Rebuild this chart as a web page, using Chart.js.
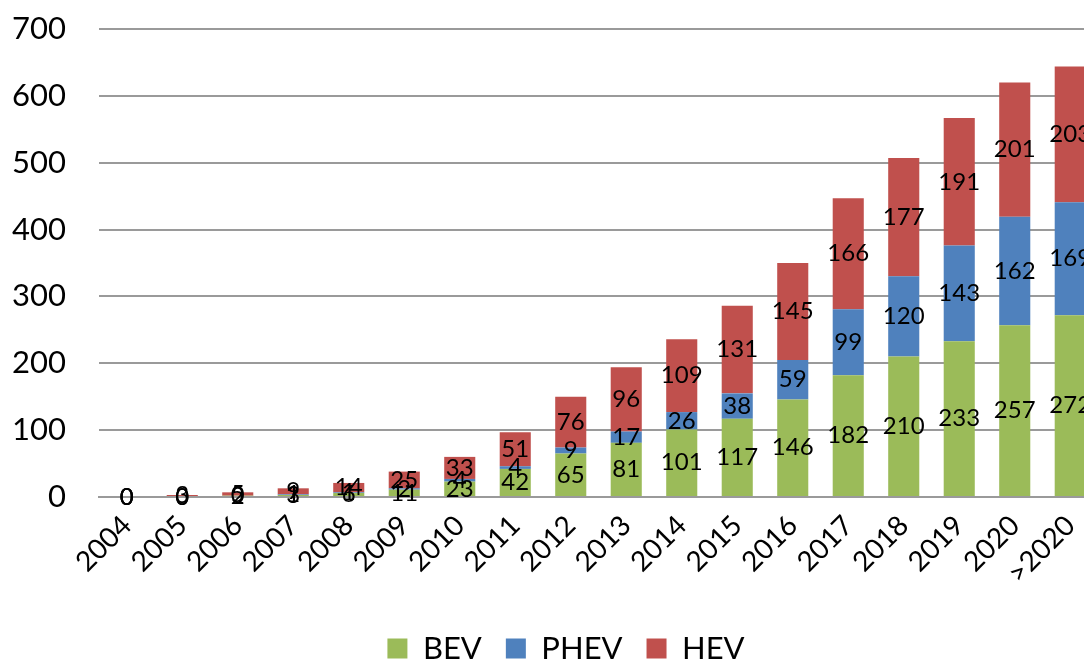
<!DOCTYPE html>
<html>
<head>
<meta charset="utf-8">
<script src="https://cdn.jsdelivr.net/npm/chart.js@4"></script>
<style>
  html, body { margin: 0; padding: 0; background: #fff; overflow: hidden; }
  #wrap { width: 1098px; height: 674px; position: relative; }
</style>
</head>
<body>
<div id="wrap"><canvas id="evChart"></canvas></div>
<script>
// chart data
const years = ["2004", "2005", "2006", "2007", "2008", "2009", "2010", "2011", "2012",
    "2013", "2014", "2015", "2016", "2017", "2018", "2019", "2020", ">2020"];
const bev  = [0, 0, 2, 3, 6, 11, 23, 42, 65, 81, 101, 117, 146, 182, 210, 233, 257, 272];
const phev = [0, 0, 0, 1, 1, 2, 4, 4, 9, 17, 26, 38, 59, 99, 120, 143, 162, 169];
const hev  = [0, 3, 5, 9, 14, 25, 33, 51, 76, 96, 109, 131, 145, 166, 177, 191, 201, 203];
const yTicks = [0, 100, 200, 300, 400, 500, 600, 700];

const FONT = "Lato, 'Open Sans', sans-serif";

// draws the value in the middle of every stacked segment
const segmentLabels = {
    id: "segmentLabels",
    afterDatasetsDraw(chart) {
        const ctx = chart.ctx;
        ctx.save();
        ctx.font = "24px " + FONT;
        ctx.fillStyle = "#000";
        ctx.textAlign = "center";
        ctx.textBaseline = "middle";
        chart.data.datasets.forEach((ds, i) => {
            const meta = chart.getDatasetMeta(i);
            meta.data.forEach((bar, j) => {
                const mid = (bar.y + bar.base) / 2;
                ctx.fillText(String(ds.data[j]), bar.x, mid);
            });
        });
        ctx.restore();
    }
};

// the original legend sits a bit right of the canvas middle (the plot runs off the right edge)
const legendShift = {
    id: "legendShift",
    afterLayout(chart) {
        chart.legend.left += 17;
        chart.legend.right += 17;
    }
};

new Chart(document.getElementById("evChart"), {
    type: "bar",
    data: {
        labels: years,
        datasets: [
            { label: "BEV", data: bev, backgroundColor: "#9BBB59" },
            { label: "PHEV", data: phev, backgroundColor: "#4F81BD" },
            { label: "HEV", data: hev, backgroundColor: "#C0504D" }
        ]
    },
    options: {
        responsive: true,
        maintainAspectRatio: false,
        animation: false,
        datasets: { bar: { categoryPercentage: 1, barPercentage: 0.56 } },
        layout: { padding: { top: 29, left: 0, right: 0, bottom: 0 } },
        plugins: {
            legend: {
                position: "bottom",
                labels: { font: { family: FONT, size: 31 }, color: "#000", boxWidth: 20, boxHeight: 20, padding: 24 }
            },
            tooltip: { enabled: false }
        },
        scales: {
            x: {
                stacked: true,
                grid: { display: false },
                border: { color: "#9a9a9a", width: 2 },
                ticks: { color: "#000", font: { family: FONT, size: 28 }, maxRotation: 45, minRotation: 45, padding: 4 },
                afterFit(scale) { scale.height = 112; }
            },
            y: {
                stacked: true,
                min: 0,
                max: 700,
                afterBuildTicks(scale) { scale.ticks = yTicks.map(v => ({ value: v })); },
                grid: { color: "#9a9a9a", lineWidth: 2, drawTicks: true, tickLength: 33, tickColor: "rgba(0,0,0,0)" },
                border: { display: false },
                ticks: { color: "#000", font: { family: FONT, size: 31 }, padding: 0 },
                afterFit(scale) { scale.width = 99; }
            }
        }
    },
    plugins: [segmentLabels, legendShift]
});
</script>
</body>
</html>
